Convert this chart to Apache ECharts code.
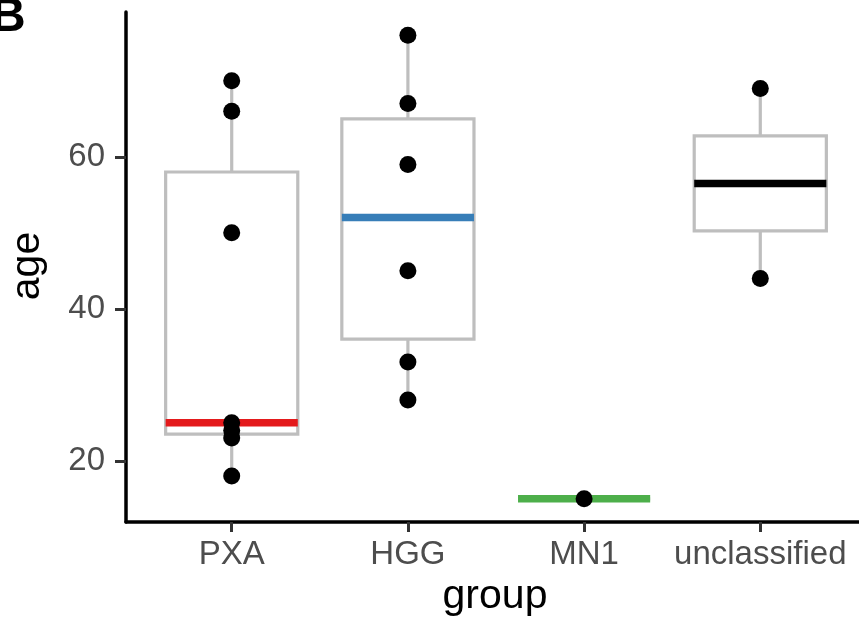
<!DOCTYPE html>
<html>
<head>
<meta charset="utf-8">
<script src="https://cdn.jsdelivr.net/npm/echarts@6/dist/echarts.min.js"></script>
<style>
  html, body { margin: 0; padding: 0; background: #fff; }
</style>
</head>
<body>
<div id="chart" style="width:859px;height:624px;"></div>
<script>
// 分组和各组年龄
const categories = ['PXA', 'HGG', 'MN1', 'unclassified'];
const pxaAges = [18, 23, 24, 25, 50, 66, 70];
const hggAges = [28, 33, 45, 59, 67, 76];
const mn1Ages = [15];
const unclassifiedAges = [44, 69];
const medianColors = ['#E41A1C', '#377EB8', '#4DAF4A', '#000000'];
const yTicks = [20, 40, 60];

const groups = [pxaAges, hggAges, mn1Ages, unclassifiedAges];

// 分位数 (R type 7, ggplot 默认)
const quantile = (arr, p) => {
  const s = arr.slice().sort((a, b) => a - b);
  const h = (s.length - 1) * p;
  const lo = Math.floor(h);
  const hi = Math.ceil(h);
  return s[lo] + (h - lo) * (s[hi] - s[lo]);
};

const boxData = groups.map((ages, i) => {
  const q1 = quantile(ages, 0.25);
  const med = quantile(ages, 0.5);
  const q3 = quantile(ages, 0.75);
  const iqr = q3 - q1;
  const inside = ages.filter(a => a >= q1 - 1.5 * iqr && a <= q3 + 1.5 * iqr);
  return [i + 1, Math.min(...inside), q1, med, q3, Math.max(...inside)];
});

const pointData = [];
groups.forEach((ages, i) => ages.forEach(a => pointData.push([i + 1, a])));

const BOX_HALF = 0.375;
const GREY = '#BEBEBE';

const renderBox = (params, api) => {
  const x = api.value(0);
  const lo = api.value(1), q1 = api.value(2), med = api.value(3), q3 = api.value(4), hi = api.value(5);
  const tl = api.coord([x - BOX_HALF, q3]);
  const br = api.coord([x + BOX_HALF, q1]);
  const pHi = api.coord([x, hi]);
  const pQ3 = api.coord([x, q3]);
  const pQ1 = api.coord([x, q1]);
  const pLo = api.coord([x, lo]);
  const mL = api.coord([x - BOX_HALF, med]);
  const mR = api.coord([x + BOX_HALF, med]);
  const lineStyle = { stroke: GREY, lineWidth: 3.2 };
  return {
    type: 'group',
    children: [
      { type: 'line', shape: { x1: pHi[0], y1: pHi[1], x2: pQ3[0], y2: pQ3[1] }, style: lineStyle },
      { type: 'line', shape: { x1: pQ1[0], y1: pQ1[1], x2: pLo[0], y2: pLo[1] }, style: lineStyle },
      { type: 'rect', shape: { x: tl[0], y: tl[1], width: br[0] - tl[0], height: br[1] - tl[1] },
        style: { fill: '#fff', stroke: GREY, lineWidth: 3.2 } },
      { type: 'line', shape: { x1: mL[0], y1: mL[1], x2: mR[0], y2: mR[1] },
        style: { stroke: medianColors[params.dataIndex], lineWidth: 7.5 } }
    ]
  };
};

const chart = echarts.init(document.getElementById('chart'));

const option = {
  animation: false,
  backgroundColor: '#fff',
  grid: {
    left: 126,
    right: -7,
    top: 12,
    bottom: 102,
    outerBoundsMode: 'none',
    containLabel: false
  },
  xAxis: {
    type: 'value',
    min: 0.4,
    max: 4.6,
    splitLine: { show: false },
    axisLine: { show: true, onZero: false, lineStyle: { color: '#000', width: 3.5 } },
    axisTick: { show: true, customValues: [1, 2, 3, 4], length: 10, lineStyle: { color: '#333', width: 3 } },
    axisLabel: {
      customValues: [1, 2, 3, 4],
      formatter: v => categories[Math.round(v) - 1] || '',
      color: '#4D4D4D',
      fontSize: 33,
      fontFamily: 'Liberation Sans',
      margin: 16
    }
  },
  yAxis: {
    type: 'value',
    min: 11.95,
    max: 79.05,
    splitLine: { show: false },
    axisLine: { show: true, onZero: false, lineStyle: { color: '#000', width: 3.5 } },
    axisTick: { show: true, customValues: yTicks, length: 11, lineStyle: { color: '#333', width: 3 } },
    axisLabel: {
      customValues: yTicks,
      color: '#4D4D4D',
      fontSize: 33,
      fontFamily: 'Liberation Sans',
      margin: 21
    }
  },
  series: [
    {
      type: 'custom',
      renderItem: renderBox,
      data: boxData,
      encode: { x: 0, y: [1, 2, 3, 4, 5] },
      z: 2
    },
    {
      type: 'scatter',
      data: pointData,
      symbolSize: 17,
      itemStyle: { color: '#000', opacity: 1 },
      z: 3
    }
  ],
  graphic: [
    {
      type: 'text', x: 28, y: 266, rotation: Math.PI / 2,
      style: { text: 'age', fontSize: 41, fontFamily: 'Liberation Sans', fill: '#000', align: 'center', verticalAlign: 'middle' }
    },
    {
      type: 'text', x: 495, y: 597,
      style: { text: 'group', fontSize: 41, fontFamily: 'Liberation Sans', fill: '#000', align: 'center', verticalAlign: 'middle' }
    },
    {
      type: 'text', x: -9, y: 42,
      style: { text: 'B', fontSize: 48, fontWeight: 'bold', fontFamily: 'Liberation Sans', fill: '#000', align: 'left', verticalAlign: 'bottom' }
    }
  ]
};

chart.setOption(option);
</script>
</body>
</html>
